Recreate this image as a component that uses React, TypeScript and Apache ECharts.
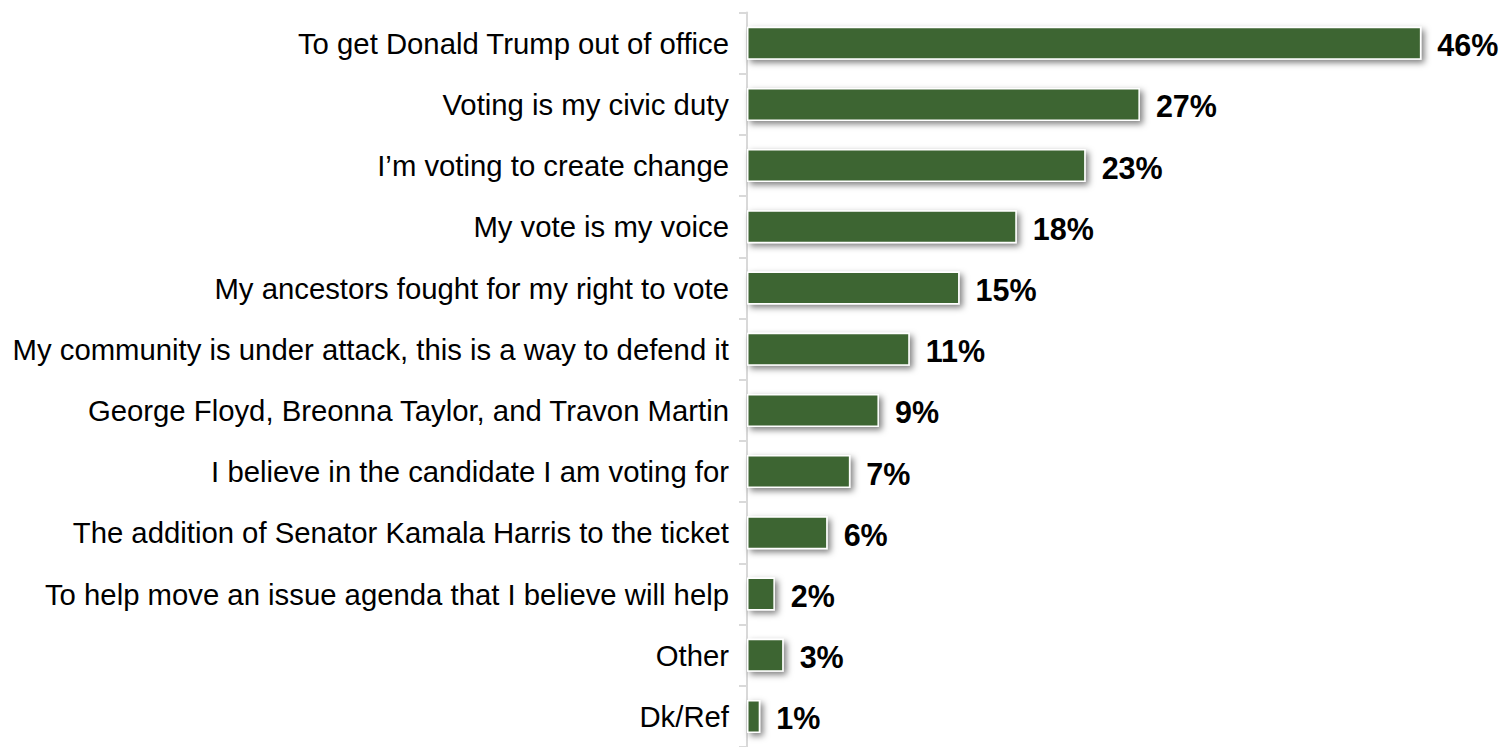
import React, { useEffect, useRef } from "react";
import * as echarts from "echarts";

const categories: string[] = [
  "To get Donald Trump out of office",
  "Voting is my civic duty",
  "I\u2019m voting to create change",
  "My vote is my voice",
  "My ancestors fought for my right to vote",
  "My community is under attack, this is a way to defend it",
  "George Floyd, Breonna Taylor, and Travon Martin",
  "I believe in the candidate I am voting for",
  "The addition of Senator Kamala Harris to the ticket",
  "To help move an issue agenda that I believe will help",
  "Other",
  "Dk/Ref",
];

const values: number[] = [46, 26.8, 23.1, 18.4, 14.5, 11.1, 9.0, 7.05, 5.5, 1.9, 2.5, 0.9];
const valueLabels: string[] = ["46%", "27%", "23%", "18%", "15%", "11%", "9%", "7%", "6%", "2%", "3%", "1%"];

const BAR_COLOR = "#3e6532";

export default function App() {
  const ref = useRef<HTMLDivElement>(null);
  useEffect(() => {
    if (!ref.current) return;
    const chart = echarts.init(ref.current, undefined, { renderer: "svg" });
    chart.setOption({
      animation: false,
      backgroundColor: "#ffffff",
      grid: { left: 747, top: 12.6, height: 741.3, width: 733, containLabel: false },
      xAxis: {
        type: "value",
        min: 0,
        max: 50,
        show: false,
      },
      yAxis: {
        type: "category",
        data: categories,
        inverse: true,
        axisLine: { show: true, lineStyle: { color: "#d9d9d9", width: 2 } },
        axisTick: { show: true, inside: false, length: 8, lineStyle: { color: "#d9d9d9", width: 2 } },
        axisLabel: {
          margin: 18,
          fontFamily: "Liberation Sans, Arial, sans-serif",
          fontSize: 29.3,
          color: "#000000",
        },
        splitLine: { show: false },
      },
      series: [
        {
          type: "bar",
          data: values,
          barWidth: "54%",
          itemStyle: {
            color: BAR_COLOR,
            borderColor: "#ffffff",
            borderWidth: 1.5,
            shadowColor: "rgba(0,0,0,0.5)",
            shadowBlur: 6,
            shadowOffsetX: 3,
            shadowOffsetY: 3,
          },
          label: {
            show: true,
            position: "right",
            distance: 16,
            offset: [0, 2],
            formatter: (p: any) => valueLabels[p.dataIndex],
            fontFamily: "Liberation Sans, Arial, sans-serif",
            fontWeight: "bold",
            fontSize: 30.5,
            color: "#000000",
          },
        },
      ],
    });
    return () => chart.dispose();
  }, []);
  return (
    <div
      ref={ref}
      style={{ position: "absolute", left: 0, top: 0, width: 1503, height: 747 }}
    />
  );
}
